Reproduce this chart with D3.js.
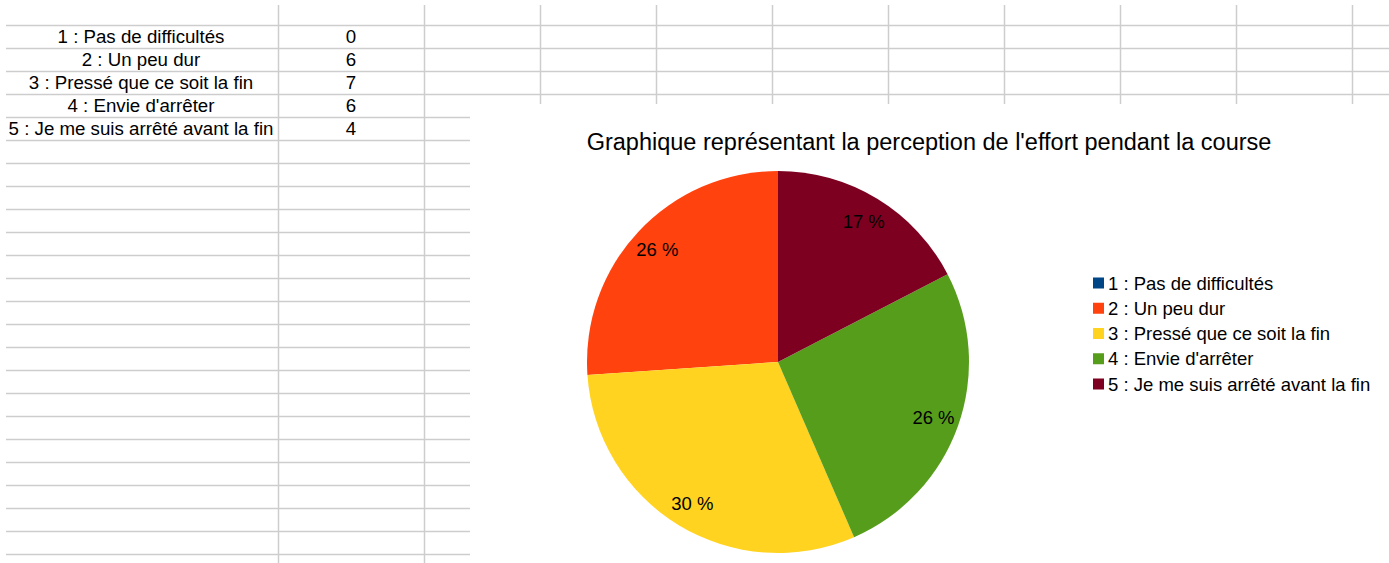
<!DOCTYPE html>
<html><head><meta charset="utf-8">
<script src="https://cdn.jsdelivr.net/npm/d3@7"></script>
<style>html,body{margin:0;padding:0;background:#fff;}svg{display:block;font-family:"Liberation Sans",Arial,sans-serif;}</style>
</head><body>
<svg id="c" width="1389" height="563"></svg>
<script>
const categories = ["1 : Pas de difficultés","2 : Un peu dur","3 : Pressé que ce soit la fin","4 : Envie d'arrêter","5 : Je me suis arrêté avant la fin"];
const values = [0, 6, 7, 6, 4];
const colors = ["#004586","#ff420e","#ffd320","#579d1c","#7e0021"];
const title = "Graphique représentant la perception de l'effort pendant la course";

const svg = d3.select("#c");
const W = 1389, H = 563;
const gridColor = "#cdcdcd";

// spreadsheet grid
const rowH = 23, firstLine = 25;
const g = svg.append("g");
const colLines = [278, 424];
for (let x = 540; x < W; x += 116) colLines.push(x);
for (let y = firstLine; y < H; y += rowH) {
  const x2 = (y < 104) ? W : 470;
  g.append("line").attr("x1", 6).attr("x2", x2).attr("y1", y + 0.5).attr("y2", y + 0.5)
    .attr("stroke", gridColor).attr("stroke-width", 1.5);
}
colLines.forEach(x => {
  const y2 = (x < 470) ? H : 104;
  g.append("line").attr("x1", x + 0.5).attr("x2", x + 0.5).attr("y1", 5).attr("y2", y2)
    .attr("stroke", gridColor).attr("stroke-width", 1.5);
});

// table text
const rowY = i => firstLine + rowH * i + rowH / 2;
categories.forEach((c, i) => {
  svg.append("text").attr("x", 141).attr("y", rowY(i)).attr("dy", "0.36em")
    .attr("text-anchor", "middle").attr("font-size", 18.7).attr("fill", "#000").text(c);
  svg.append("text").attr("x", 351).attr("y", rowY(i)).attr("dy", "0.36em")
    .attr("text-anchor", "middle").attr("font-size", 18.7).attr("fill", "#000").text(values[i]);
});

// chart area
svg.append("rect").attr("x", 471).attr("y", 105).attr("width", W - 471).attr("height", H - 105).attr("fill", "#fff");

svg.append("text").attr("x", 929).attr("y", 142).attr("dy", "0.36em").attr("text-anchor", "middle")
  .attr("font-size", 23.5).attr("fill", "#000").text(title);

const cx = 778, cy = 362, R = 191;
const total = d3.sum(values);
const pie = d3.pie().sort(null).value(d => d.v).startAngle(0).endAngle(-2 * Math.PI);
const data = pie(values.map((v, i) => ({v, i})));
const arc = d3.arc().innerRadius(0).outerRadius(R);
const labelArc = d3.arc().innerRadius(165).outerRadius(165);
const pg = svg.append("g").attr("transform", `translate(${cx},${cy})`);
pg.selectAll("path").data(data.filter(d => d.data.v > 0)).join("path")
  .attr("d", arc).attr("fill", d => colors[d.data.i]);
pg.selectAll("text").data(data.filter(d => d.data.v > 0)).join("text")
  .attr("transform", d => `translate(${labelArc.centroid(d)})`)
  .attr("text-anchor", "middle").attr("dy", "0.36em").attr("font-size", 18.5).attr("fill", "#000")
  .text(d => Math.round(d.data.v / total * 100) + " %");

// legend
const lg = svg.append("g");
categories.forEach((c, i) => {
  const y = 283 + i * 25.25;
  lg.append("rect").attr("x", 1093).attr("y", y - 5.5).attr("width", 11).attr("height", 11).attr("fill", colors[i]);
  lg.append("text").attr("x", 1108).attr("y", y).attr("dy", "0.36em").attr("font-size", 18.5).attr("fill", "#000").text(c);
});
</script>
</body></html>
